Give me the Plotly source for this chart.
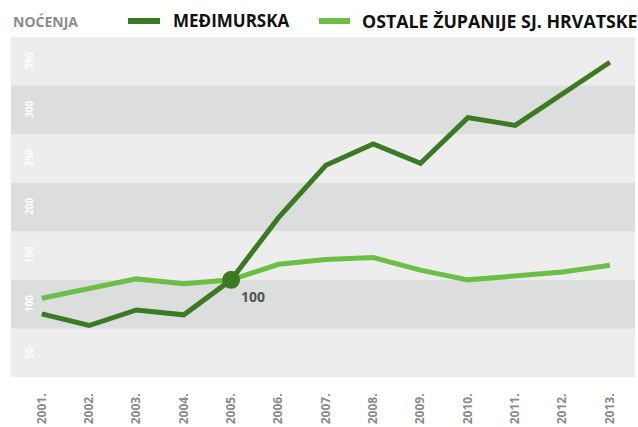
import plotly.graph_objects as go

years = ["2001.", "2002.", "2003.", "2004.", "2005.", "2006.", "2007.",
         "2008.", "2009.", "2010.", "2011.", "2012.", "2013."]
medimurska = [65, 53, 69, 64, 100, 164, 218, 240, 220, 267, 259, 292, 324]
ostale = [81, 91, 101, 96, 100, 116, 121, 123, 110, 100, 104, 108, 115]
y_tick_values = [50, 100, 150, 200, 250, 300, 350]
base_year_index = 4
base_label = "100"
series_names = ["MEĐIMURSKA", "OSTALE ŽUPANIJE SJ. HRVATSKE"]
y_title = "NOĆENJA"

DARK = "#3b7a22"
LIGHT = "#6cbf45"
BAND_LIGHT = "#ededed"
BAND_DARK = "#dcdddd"
FONT = "Open Sans"

W, H = 638, 427
ML, MR, MT, MB = 11, 3, 37, 50
PW, PH = W - ML - MR, H - MT - MB


def px(x):
    return (x - ML) / PW


def py(y):
    return (H - MB - y) / PH


fig = go.Figure()
fig.add_trace(go.Scatter(x=years, y=ostale, mode="lines", name=series_names[1],
                         line=dict(color=LIGHT, width=5), hoverinfo="skip"))
fig.add_trace(go.Scatter(x=years, y=medimurska, mode="lines", name=series_names[0],
                         line=dict(color=DARK, width=5), hoverinfo="skip"))
fig.add_trace(go.Scatter(x=[years[base_year_index]], y=[medimurska[base_year_index]],
                         mode="markers", marker=dict(color=DARK, size=18),
                         hoverinfo="skip"))

shapes = []
# alternating bands
for i, v in enumerate(y_tick_values):
    shapes.append(dict(type="rect", xref="paper", yref="y", x0=0, x1=1,
                       y0=v - 50, y1=v,
                       fillcolor=BAND_DARK if i % 2 == 1 else BAND_LIGHT,
                       line=dict(width=0), layer="below"))

# legend lines
shapes.append(dict(type="line", xref="paper", yref="paper", x0=px(128), x1=px(160),
                   y0=py(21), y1=py(21), line=dict(color=DARK, width=6)))
shapes.append(dict(type="line", xref="paper", yref="paper", x0=px(319), x1=px(350),
                   y0=py(21), y1=py(21), line=dict(color=LIGHT, width=6)))

annotations = []
for v in y_tick_values:
    annotations.append(dict(x=px(20), y=v - 25, xref="paper", yref="y",
                            text=str(v), textangle=-90, showarrow=False,
                            font=dict(family=FONT, size=10, color="white", weight="bold")))

annotations.append(dict(x=base_year_index, y=medimurska[base_year_index],
                        xref="x", yref="y", text=base_label, showarrow=False,
                        xshift=22, yshift=-17,
                        font=dict(family=FONT, size=14, color="#555555", weight="bold")))

annotations.append(dict(x=px(11), y=py(22), xref="paper", yref="paper", text=y_title,
                        xanchor="left", yanchor="middle", showarrow=False,
                        font=dict(family=FONT, size=14, color="#8c8c8c", weight="bold")))
annotations.append(dict(x=px(171), y=py(21), xref="paper", yref="paper", text=series_names[0],
                        xanchor="left", yanchor="middle", showarrow=False,
                        font=dict(family=FONT, size=17, color="#111111", weight="bold")))
annotations.append(dict(x=px(360), y=py(21), xref="paper", yref="paper", text=series_names[1],
                        xanchor="left", yanchor="middle", showarrow=False,
                        font=dict(family=FONT, size=17.8, color="#111111", weight="bold")))

fig.update_layout(
    width=W, height=H,
    margin=dict(l=ML, r=MR, t=MT, b=MB, pad=0, autoexpand=False),
    paper_bgcolor="white", plot_bgcolor=BAND_LIGHT,
    showlegend=False,
    shapes=shapes, annotations=annotations,
    xaxis=dict(type="category", range=[-0.65, 12.53], showgrid=False, zeroline=False,
               showline=False, automargin=False,
               ticks="", tickangle=-90, ticklabelstandoff=13,
               tickfont=dict(family=FONT, size=12, color="#8a8a8a", weight="bold")),
    yaxis=dict(range=[0, 350], showgrid=False, zeroline=False, showline=False,
               automargin=False, showticklabels=False, ticks=""),
)

fig.write_html("out.html", config={"displayModeBar": False},
               post_script="document.body.style.margin='0';"
                           "document.body.style.overflow='hidden';")
